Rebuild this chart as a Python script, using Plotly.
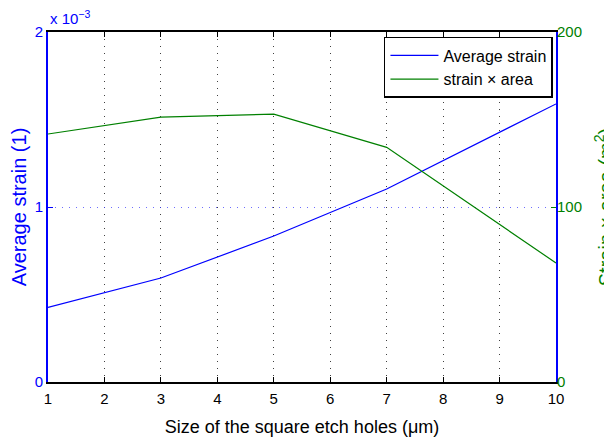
import plotly.graph_objects as go

hole_size = [1, 3, 5, 7, 10]
avg_strain = [0.000426, 0.000594, 0.000834, 0.001103, 0.001589]
strain_area = [141.7, 151.4, 153.1, 134.1, 68.0]

x_ticks = list(range(1, 11))
y1_ticks = [0, 0.001, 0.002]
y1_labels = ["0", "1", "2"]
y2_ticks = [0, 100, 200]

BLUE = "#0000ff"
GREEN = "#008000"
FONT = "Liberation Sans, Arial, sans-serif"

fig = go.Figure()
fig.add_trace(go.Scatter(x=hole_size, y=avg_strain, mode="lines", name="Average strain",
                         line=dict(color=BLUE, width=1.2), yaxis="y"))
fig.add_trace(go.Scatter(x=hole_size, y=strain_area, mode="lines", name="strain × area",
                         line=dict(color=GREEN, width=1.2), yaxis="y2"))

fig.update_layout(
    width=612, height=439,
    margin=dict(l=40, r=64, t=24, b=65),
    paper_bgcolor="white", plot_bgcolor="white",
    font=dict(family=FONT, size=15, color="black"),
    showlegend=True,
    legend=dict(x=0.994, y=0.986, xanchor="right", yanchor="top",
                bgcolor="white", bordercolor="black", borderwidth=1.5,
                font=dict(size=16, family=FONT), tracegroupgap=0,
                itemwidth=48),
    xaxis=dict(range=[1, 10], tickvals=x_ticks, ticks="inside", ticklen=5,
               tickcolor="black", showline=True, linecolor="black", linewidth=1.5,
               mirror="ticks", showgrid=True, gridcolor="rgba(0,0,0,0.75)",
               griddash="1px,6px", gridwidth=1, zeroline=False, automargin=False,
               tickfont=dict(size=15, color="black"), ticklabelstandoff=2,
               title=dict(text="Size of the square etch holes (μm)",
                          font=dict(size=18, color="black"), standoff=15)),
    yaxis=dict(range=[0, 0.002], tickvals=y1_ticks, ticktext=y1_labels,
               ticks="inside", ticklen=5, tickcolor=BLUE,
               showline=True, linecolor=BLUE, linewidth=1.8, mirror=True,
               showgrid=True, gridcolor="rgba(60,60,255,0.75)", griddash="1px,6px",
               zeroline=False, automargin=False, tickfont=dict(size=15, color=BLUE),
               title=dict(text="Average strain (1)", font=dict(size=20, color=BLUE),
                          standoff=6)),
    yaxis2=dict(range=[0, 200], tickvals=y2_ticks, overlaying="y", side="right",
                ticks="inside", ticklen=5, tickcolor=GREEN, showline=False,
                showgrid=False, zeroline=False, automargin=False,
                tickfont=dict(size=15, color=GREEN),
                title=dict(text="Strain × area (m<sup>2</sup>)",
                           font=dict(size=20, color=GREEN), standoff=17)),
)

fig.add_annotation(text="x 10<sup>−3</sup>", xref="paper", yref="paper",
                   x=0, y=1, xanchor="left", yanchor="bottom", yshift=3,
                   showarrow=False, font=dict(size=15, color=BLUE, family=FONT))

fig.write_html("out.html")
